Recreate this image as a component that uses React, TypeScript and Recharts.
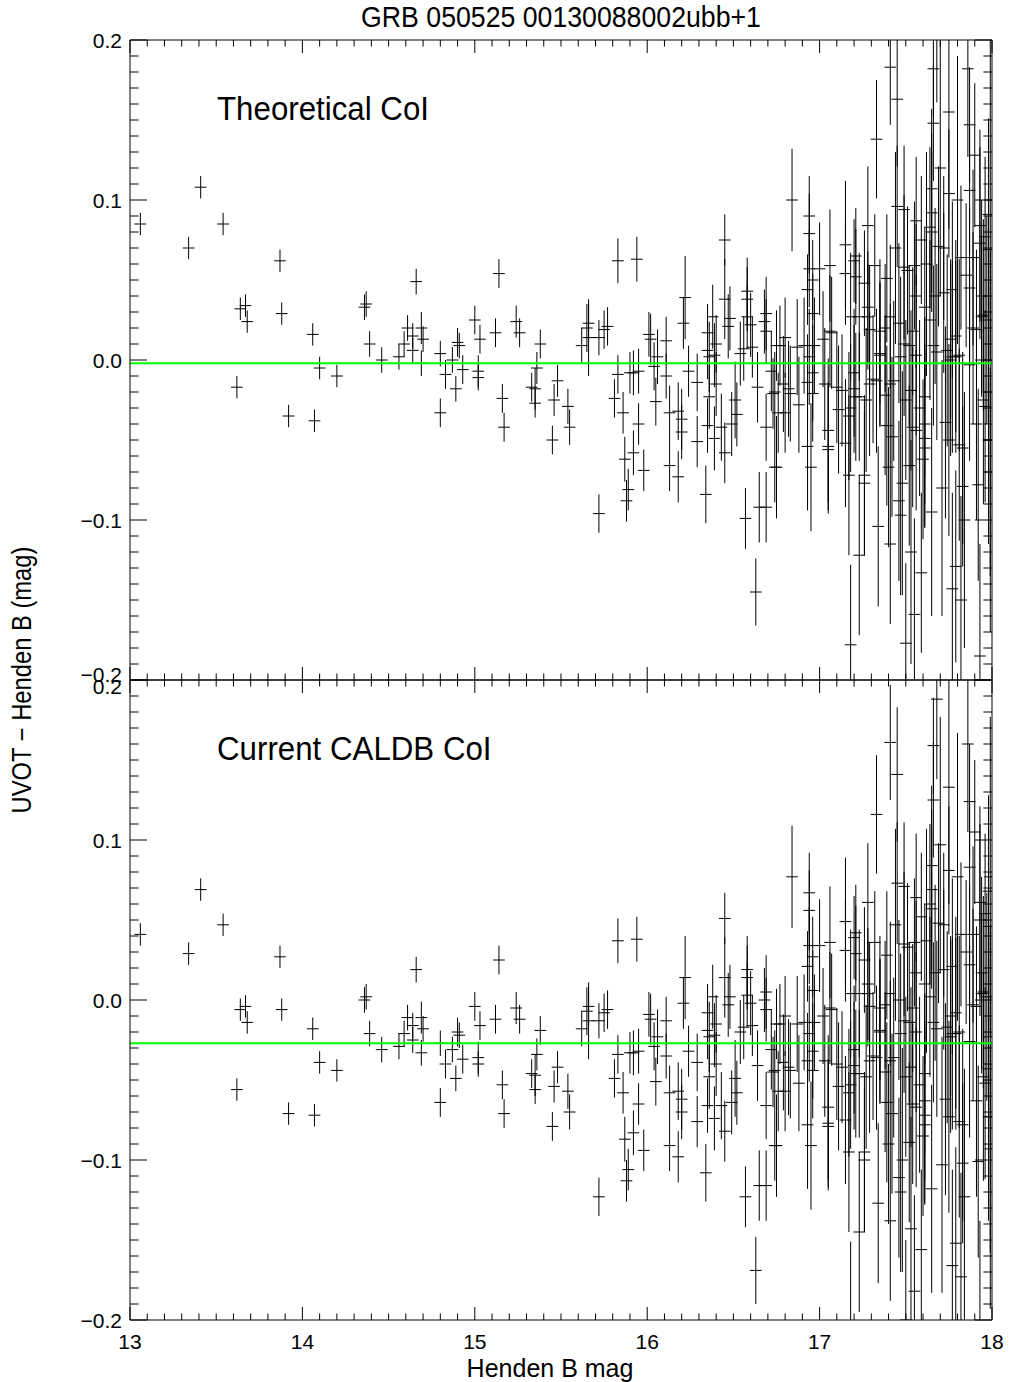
import { ErrorBar, ReferenceLine, Scatter, ScatterChart, XAxis, YAxis } from 'recharts';

// Henden B magnitude of each comparison star (same stars in both panels)
const henB = [
    13.06, 13.41, 13.34, 13.54, 13.87, 13.88, 13.67, 13.64, 13.68, 13.62,
    13.92, 14.07, 14.06, 14.10, 14.20, 14.37, 14.36, 14.39, 14.46, 14.56,
    14.59, 14.66, 14.61, 14.64, 14.69, 14.70, 14.64, 14.69, 14.80, 14.80,
    14.83, 14.87, 14.89, 14.90, 14.91, 14.93, 15.00, 15.03, 15.02, 15.02,
    15.14, 15.12, 15.16, 15.17, 15.24, 15.26, 15.38, 15.36, 15.33, 15.35,
    15.35, 15.46, 15.45, 15.48, 15.54, 15.55, 15.62, 15.65, 15.66, 15.66,
    15.72, 15.75, 15.77, 15.83, 15.94, 15.72, 15.83, 15.81, 15.86, 15.90,
    15.92, 15.95, 15.95, 15.87, 15.92, 15.98, 15.89, 15.88, 16.02, 16.01,
    16.06, 16.04, 16.11, 16.11, 16.05, 16.13, 16.18, 16.20, 16.20, 16.13,
    16.18, 16.22, 16.21, 16.24, 16.29, 16.29, 16.34, 16.35, 16.35, 16.38,
    16.36, 16.36, 16.40, 16.39, 16.40, 16.35, 16.39, 16.45, 16.45, 16.48,
    16.47, 16.43, 16.45, 16.51, 16.52, 16.49, 16.54, 16.56, 16.58, 16.58,
    16.58, 16.60, 16.61, 16.64, 16.57, 16.65, 16.69, 16.69, 16.69, 16.68,
    16.69, 16.73, 16.74, 16.75, 16.63, 16.84, 16.94, 16.94, 16.94, 16.96,
    16.93, 17.00, 16.96, 17.06, 17.15, 17.15, 17.20, 17.21, 17.21, 17.26,
    17.28, 17.33, 17.32, 17.28, 17.28, 17.41, 17.45, 17.45, 17.49, 17.39,
    17.56, 17.59, 17.55, 17.51, 17.66, 17.66, 17.65, 17.65, 17.65, 17.75,
    17.75, 17.72, 17.86, 17.87, 17.90, 17.87, 17.82, 17.85, 17.98, 17.96,
    17.98, 17.94, 16.77, 16.80, 16.87, 16.97, 17.02, 17.07, 17.23, 17.35,
    17.38, 17.46, 17.49, 17.54, 17.56, 17.64, 17.66, 17.76, 17.72, 17.77,
    17.91, 17.87, 17.95, 16.75, 16.93, 16.95, 16.88, 16.76, 16.80, 16.74,
    16.79, 16.82, 16.96, 16.93, 17.05, 17.05, 17.05, 17.03, 17.11, 17.15,
    17.17, 17.17, 17.20, 17.20, 17.26, 17.26, 17.23, 17.18, 17.27, 17.23,
    17.34, 17.41, 17.40, 17.38, 17.39, 17.42, 17.48, 17.47, 17.46, 17.50,
    17.55, 17.59, 17.52, 17.54, 17.56, 17.61, 17.60, 17.61, 17.65, 17.61,
    17.73, 17.75, 17.77, 17.79, 17.82, 17.83, 17.81, 17.83, 17.92, 17.93,
    17.91, 17.96, 17.31, 17.68, 17.49, 17.64, 17.69, 17.77, 17.89, 17.93,
    17.93, 17.35, 17.41, 17.52, 17.61, 17.67, 17.68, 17.74, 17.79, 17.81,
    17.89, 17.94, 17.97, 17.06, 17.18, 17.29, 16.91, 16.72, 16.83, 16.96,
    17.10, 17.13, 17.18, 17.21, 17.29, 17.33, 17.41, 17.43, 17.50, 17.53,
    17.58, 17.61, 17.76, 17.87, 17.95, 17.98, 17.98, 17.99, 16.94, 17.35,
    17.47, 17.56, 17.79, 17.99, 17.99, 17.98, 17.70, 17.80, 17.62, 17.44,
    17.84, 17.71, 17.53,
];

// UVOT - Henden B, theoretical coincidence loss correction
const theoCol = [
    0.085, 0.108, 0.070, 0.085, 0.062, 0.029, 0.034, 0.032, 0.024, -0.017,
    -0.035, -0.038, 0.016, -0.005, -0.010, 0.035, 0.033, 0.010, 0.000, 0.002,
    0.010, 0.049, 0.020, 0.015, 0.020, 0.013, 0.006, -0.002, -0.033, 0.004,
    -0.009, 0.000, -0.018, 0.011, 0.009, -0.006, 0.025, 0.013, -0.007, -0.011,
    0.054, 0.017, -0.024, -0.042, 0.024, 0.017, 0.010, -0.005, -0.017, -0.018,
    -0.027, -0.025, -0.050, -0.013, -0.029, -0.042, 0.009, 0.020, 0.014, 0.023,
    0.014, 0.019, 0.021, 0.062, 0.063, -0.096, -0.009, -0.024, -0.033, -0.008,
    -0.008, -0.007, -0.040, -0.062, -0.058, -0.069, -0.081, -0.088, 0.013, 0.016,
    0.002, -0.004, 0.012, -0.010, -0.026, -0.033, -0.032, -0.037, -0.045, -0.066,
    -0.073, 0.039, 0.023, -0.007, -0.014, -0.051, -0.084, 0.017, 0.006, 0.027,
    0.002, -0.023, 0.010, 0.003, -0.015, -0.041, -0.049, 0.075, 0.038, 0.026,
    0.021, -0.042, -0.058, -0.025, -0.034, -0.040, 0.004, 0.007, 0.043, 0.038,
    0.027, 0.022, 0.008, -0.017, -0.099, -0.092, -0.092, 0.029, 0.018, 0.024,
    -0.042, -0.021, -0.067, 0.009, -0.145, 0.100, 0.090, 0.079, 0.057, 0.050,
    0.044, 0.057, 0.029, 0.059, 0.072, 0.054, 0.062, 0.065, 0.052, 0.048,
    0.084, 0.138, 0.059, 0.033, 0.027, 0.183, 0.163, 0.096, 0.094, 0.051,
    0.087, 0.075, 0.059, 0.056, 0.182, 0.148, 0.107, 0.092, 0.080, 0.155,
    0.104, 0.070, 0.182, 0.147, 0.128, 0.106, 0.064, 0.053, 0.091, 0.077,
    0.069, 0.027, 0.009, 0.014, 0.008, 0.009, 0.013, 0.017, 0.027, 0.004,
    0.020, 0.023, 0.010, 0.018, 0.040, 0.025, 0.009, 0.013, 0.042, 0.002,
    0.019, 0.045, 0.028, -0.067, -0.054, -0.067, -0.028, -0.033, -0.033, -0.020,
    -0.015, -0.018, -0.008, -0.014, -0.044, -0.054, -0.056, -0.015, -0.031, -0.052,
    -0.072, -0.035, -0.018, -0.008, -0.072, -0.077, -0.122, -0.178, -0.025, -0.023,
    -0.104, -0.115, -0.067, -0.022, -0.041, -0.048, -0.077, -0.097, -0.088, -0.177,
    -0.159, -0.133, -0.066, -0.042, -0.044, -0.055, -0.062, -0.040, -0.095, -0.023,
    -0.039, -0.050, -0.143, -0.129, -0.150, -0.055, -0.053, -0.079, -0.078, -0.185,
    -0.040, -0.029, -0.012, 0.211, 0.058, 0.083, 0.071, 0.044, 0.064, 0.073,
    0.084, 0.018, 0.027, 0.009, 0.033, 0.040, 0.005, 0.006, 0.015, 0.003,
    0.020, 0.040, 0.025, 0.018, 0.027, 0.019, 0.009, -0.007, -0.021, -0.021,
    -0.017, -0.019, -0.030, -0.023, -0.015, -0.013, -0.015, -0.013, -0.025, -0.019,
    -0.030, -0.049, 0.000, -0.003, -0.025, -0.020, -0.050, -0.070, 0.002, 0.003,
    0.002, 0.003, 0.002, 0.100, -0.050, 0.000, 0.120, 0.100, 0.060, 0.070,
    -0.100, -0.080, -0.120,
];

// UVOT - Henden B, current CALDB coincidence loss correction
const caldbCol = [
    0.041, 0.069, 0.029, 0.047, 0.027, -0.006, -0.004, -0.006, -0.014, -0.056,
    -0.071, -0.072, -0.018, -0.039, -0.044, 0.002, 0.000, -0.021, -0.031, -0.029,
    -0.021, 0.019, -0.011, -0.016, -0.011, -0.018, -0.025, -0.033, -0.064, -0.027,
    -0.040, -0.031, -0.049, -0.020, -0.022, -0.037, -0.004, -0.016, -0.036, -0.040,
    0.025, -0.012, -0.053, -0.071, -0.005, -0.012, -0.019, -0.034, -0.046, -0.047,
    -0.056, -0.054, -0.079, -0.042, -0.057, -0.070, -0.018, -0.007, -0.013, -0.004,
    -0.013, -0.008, -0.006, 0.037, 0.038, -0.123, -0.034, -0.049, -0.058, -0.033,
    -0.033, -0.032, -0.065, -0.087, -0.083, -0.094, -0.106, -0.113, -0.012, -0.009,
    -0.023, -0.029, -0.013, -0.035, -0.051, -0.058, -0.057, -0.062, -0.070, -0.091,
    -0.098, 0.014, -0.002, -0.032, -0.039, -0.076, -0.108, -0.008, -0.019, 0.002,
    -0.023, -0.048, -0.015, -0.022, -0.040, -0.066, -0.074, 0.051, 0.014, 0.002,
    -0.003, -0.066, -0.082, -0.049, -0.058, -0.064, -0.020, -0.017, 0.019, 0.014,
    0.003, -0.002, -0.016, -0.041, -0.123, -0.116, -0.116, 0.005, -0.006, 0.000,
    -0.066, -0.045, -0.091, -0.015, -0.169, 0.077, 0.067, 0.056, 0.034, 0.027,
    0.021, 0.034, 0.006, 0.036, 0.049, 0.031, 0.039, 0.042, 0.029, 0.025,
    0.061, 0.116, 0.036, 0.010, 0.004, 0.161, 0.141, 0.073, 0.071, 0.028,
    0.064, 0.052, 0.036, 0.033, 0.159, 0.125, 0.084, 0.069, 0.057, 0.133,
    0.081, 0.047, 0.160, 0.124, 0.105, 0.083, 0.041, 0.030, 0.068, 0.054,
    0.046, 0.004, -0.015, -0.010, -0.015, -0.014, -0.010, -0.006, 0.004, -0.019,
    -0.003, 0.000, -0.013, -0.005, 0.017, 0.002, -0.014, -0.010, 0.019, -0.021,
    -0.004, 0.022, 0.005, -0.091, -0.078, -0.091, -0.052, -0.057, -0.057, -0.044,
    -0.039, -0.042, -0.032, -0.038, -0.067, -0.077, -0.079, -0.038, -0.054, -0.075,
    -0.095, -0.058, -0.041, -0.031, -0.095, -0.100, -0.145, -0.201, -0.048, -0.046,
    -0.127, -0.138, -0.090, -0.045, -0.064, -0.071, -0.100, -0.120, -0.111, -0.200,
    -0.182, -0.156, -0.089, -0.065, -0.067, -0.078, -0.085, -0.063, -0.118, -0.046,
    -0.062, -0.073, -0.166, -0.152, -0.173, -0.078, -0.076, -0.102, -0.101, -0.208,
    -0.063, -0.052, -0.035, 0.188, 0.035, 0.060, 0.048, 0.021, 0.041, 0.050,
    0.061, -0.005, 0.004, -0.014, 0.010, 0.017, -0.018, -0.017, -0.008, -0.020,
    -0.003, 0.017, 0.002, -0.005, 0.004, -0.004, -0.014, -0.031, -0.044, -0.044,
    -0.040, -0.042, -0.053, -0.046, -0.038, -0.036, -0.038, -0.036, -0.048, -0.042,
    -0.053, -0.072, -0.023, -0.026, -0.048, -0.043, -0.073, -0.093, -0.021, -0.020,
    -0.021, -0.020, -0.021, 0.077, -0.073, -0.023, 0.097, 0.077, 0.037, 0.047,
    -0.123, -0.103, -0.143,
];

// 1-sigma error on the colour difference
const colErr = [
    0.007, 0.007, 0.007, 0.007, 0.007, 0.007, 0.007, 0.007, 0.007, 0.007,
    0.007, 0.007, 0.007, 0.007, 0.007, 0.008, 0.008, 0.008, 0.008, 0.008,
    0.008, 0.008, 0.008, 0.008, 0.010, 0.008, 0.008, 0.008, 0.009, 0.008,
    0.009, 0.008, 0.008, 0.009, 0.008, 0.009, 0.009, 0.009, 0.010, 0.008,
    0.009, 0.009, 0.009, 0.009, 0.010, 0.009, 0.009, 0.010, 0.009, 0.013,
    0.009, 0.010, 0.009, 0.010, 0.011, 0.011, 0.011, 0.015, 0.024, 0.012,
    0.011, 0.012, 0.012, 0.014, 0.014, 0.012, 0.012, 0.012, 0.013, 0.013,
    0.014, 0.014, 0.013, 0.014, 0.014, 0.013, 0.013, 0.013, 0.016, 0.014,
    0.017, 0.015, 0.015, 0.014, 0.015, 0.017, 0.018, 0.019, 0.017, 0.016,
    0.016, 0.026, 0.016, 0.016, 0.018, 0.016, 0.018, 0.018, 0.018, 0.020,
    0.022, 0.020, 0.018, 0.020, 0.020, 0.017, 0.020, 0.016, 0.025, 0.020,
    0.020, 0.021, 0.019, 0.024, 0.020, 0.020, 0.020, 0.020, 0.021, 0.020,
    0.020, 0.020, 0.019, 0.022, 0.019, 0.022, 0.022, 0.023, 0.020, 0.020,
    0.021, 0.022, 0.022, 0.022, 0.021, 0.032, 0.025, 0.025, 0.024, 0.025,
    0.022, 0.029, 0.025, 0.035, 0.040, 0.032, 0.026, 0.030, 0.030, 0.033,
    0.037, 0.037, 0.032, 0.035, 0.033, 0.036, 0.042, 0.038, 0.040, 0.040,
    0.040, 0.040, 0.040, 0.040, 0.030, 0.036, 0.050, 0.050, 0.050, 0.073,
    0.040, 0.045, 0.055, 0.036, 0.045, 0.040, 0.045, 0.045, 0.060, 0.050,
    0.060, 0.050, 0.025, 0.025, 0.030, 0.030, 0.030, 0.035, 0.040, 0.045,
    0.040, 0.050, 0.045, 0.040, 0.045, 0.050, 0.050, 0.050, 0.050, 0.060,
    0.050, 0.050, 0.060, 0.032, 0.040, 0.040, 0.030, 0.025, 0.025, 0.025,
    0.030, 0.030, 0.030, 0.030, 0.045, 0.040, 0.040, 0.035, 0.040, 0.040,
    0.050, 0.040, 0.040, 0.040, 0.050, 0.045, 0.050, 0.050, 0.045, 0.040,
    0.050, 0.050, 0.050, 0.050, 0.050, 0.050, 0.070, 0.050, 0.050, 0.050,
    0.060, 0.050, 0.050, 0.050, 0.050, 0.050, 0.050, 0.050, 0.065, 0.050,
    0.060, 0.060, 0.060, 0.060, 0.065, 0.060, 0.060, 0.050, 0.060, 0.070,
    0.060, 0.060, 0.040, 0.050, 0.045, 0.050, 0.050, 0.055, 0.055, 0.060,
    0.060, 0.045, 0.045, 0.050, 0.050, 0.055, 0.055, 0.060, 0.060, 0.060,
    0.060, 0.060, 0.065, 0.035, 0.040, 0.040, 0.030, 0.025, 0.030, 0.030,
    0.035, 0.035, 0.040, 0.040, 0.045, 0.045, 0.050, 0.050, 0.050, 0.050,
    0.055, 0.055, 0.060, 0.060, 0.065, 0.065, 0.065, 0.065, 0.030, 0.045,
    0.050, 0.050, 0.060, 0.100, 0.120, 0.090, 0.080, 0.090, 0.070, 0.060,
    0.080, 0.080, 0.070,
];

// half width of the magnitude bar
const magErr = 0.034;

// mean offsets (green lines)
const theoMean = -0.002;
const caldbMean = -0.027;

const xMajor = [13, 14, 15, 16, 17, 18];
const yMajor = [-0.2, -0.1, 0, 0.1, 0.2];

const xTicks = Array.from({ length: 51 }, (_, i) => Math.round((13 + i * 0.1) * 10) / 10);
const yTicks = Array.from({ length: 41 }, (_, i) => Math.round((-0.2 + i * 0.01) * 100) / 100);

const FONT = '"Liberation Sans", Arial, Helvetica, sans-serif';

const isMajorY = (v: number) => yMajor.some((m) => Math.abs(m - v) < 1e-6);
const fmtY = (v: number) => (v < -1e-9 ? '\u2212' : '') + Math.abs(v).toFixed(1);

// IDL-ish text: regular sans, optionally squeezed horizontally
function NText({ x, y, size, anchor = 'start', rotate = 0, sx = 1, children }: any) {
    const tf = `translate(${x},${y})${rotate ? ` rotate(${rotate})` : ''} scale(${sx},1)`;
    return (
        <text transform={tf} textAnchor={anchor} fontSize={size} fontFamily={FONT} fill="#000">
            {children}
        </text>
    );
}

function XTick(props: any) {
    const { x, y, payload, side, labels } = props;
    const v = payload.value;
    const major = xMajor.includes(v);
    const len = major ? 13 : 6.5;
    const dir = side === 'bottom' ? -1 : 1;
    return (
        <g>
            <line x1={x} x2={x} y1={y} y2={y + dir * len} stroke="#000" strokeWidth={1} />
            {labels && major && (
                <NText x={x} y={y + 29} size={21} anchor="middle">
                    {v}
                </NText>
            )}
        </g>
    );
}

function YTick(props: any) {
    const { x, y, payload, side, shiftAt, shift } = props;
    const v = payload.value;
    const major = isMajorY(v);
    const len = major ? 17 : 8.6;
    const dir = side === 'left' ? 1 : -1;
    // the -0.2 / 0.2 labels of the two panels share the junction; keep them slightly apart
    const dy = shiftAt !== undefined && Math.abs(v - shiftAt) < 1e-6 ? shift : 0;
    return (
        <g>
            <line x1={x} x2={x + dir * len} y1={y} y2={y} stroke="#000" strokeWidth={1} />
            {side === 'left' && major && (
                <NText x={x - 8} y={y + 7.5 + dy} size={21} anchor="end">
                    {fmtY(v)}
                </NText>
            )}
        </g>
    );
}

type PanelProps = {
    ys: number[];
    mean: number;
    plotTop: number;
    bottomSpace: number;
    xLabels: boolean;
    shiftAt: number;
    shift: number;
};

const PLOT_W = 862;
const PLOT_H = 640;

function Panel({ ys, mean, plotTop, bottomSpace, xLabels, shiftAt, shift }: PanelProps) {
    const rows = henB.map((x, i) => ({ x, y: ys[i], ex: magErr, ey: colErr[i] }));
    const axisStyle = { stroke: '#000', strokeWidth: 1 };
    const frameH = 40 + PLOT_H + bottomSpace;
    return (
        <>
            {/* data layer: exactly the plot box, clipped like the IDL plot */}
            <div style={{ position: 'absolute', left: 130, top: plotTop, width: PLOT_W, height: PLOT_H, overflow: 'hidden' }}>
                <ScatterChart width={PLOT_W} height={PLOT_H} margin={{ top: 0, right: 0, bottom: 0, left: 0 }}>
                    <XAxis type="number" dataKey="x" domain={[13, 18]} allowDataOverflow hide />
                    <YAxis type="number" dataKey="y" domain={[-0.2, 0.2]} allowDataOverflow hide />
                    <Scatter data={rows} shape={() => <g />} isAnimationActive={false}>
                        <ErrorBar dataKey="ey" direction="y" width={0} stroke="#000" strokeWidth={1} isAnimationActive={false} />
                        <ErrorBar dataKey="ex" direction="x" width={0} stroke="#000" strokeWidth={1} isAnimationActive={false} />
                    </Scatter>
                    <ReferenceLine y={mean} stroke="#00ff00" strokeWidth={2} />
                </ScatterChart>
            </div>
            {/* frame layer: box with inward ticks on all four sides */}
            <div style={{ position: 'absolute', left: 0, top: plotTop - 40 }}>
                <ScatterChart width={1010} height={frameH} margin={{ top: 39, right: 17, bottom: bottomSpace - 1, left: 129 }}>
                    <XAxis
                        xAxisId="b"
                        orientation="bottom"
                        type="number"
                        dataKey="x"
                        domain={[13, 18]}
                        allowDataOverflow
                        ticks={xTicks}
                        interval={0}
                        height={1}
                        tickSize={0}
                        tickMargin={0}
                        tickLine={false}
                        axisLine={axisStyle}
                        tick={(p: any) => <XTick {...p} side="bottom" labels={xLabels} />}
                    />
                    <XAxis
                        xAxisId="t"
                        orientation="top"
                        type="number"
                        dataKey="x"
                        domain={[13, 18]}
                        allowDataOverflow
                        ticks={xTicks}
                        interval={0}
                        height={1}
                        tickSize={0}
                        tickMargin={0}
                        tickLine={false}
                        axisLine={axisStyle}
                        tick={(p: any) => <XTick {...p} side="top" labels={false} />}
                    />
                    <YAxis
                        yAxisId="l"
                        orientation="left"
                        type="number"
                        dataKey="y"
                        domain={[-0.2, 0.2]}
                        allowDataOverflow
                        ticks={yTicks}
                        interval={0}
                        width={1}
                        tickSize={0}
                        tickMargin={0}
                        tickLine={false}
                        axisLine={axisStyle}
                        tick={(p: any) => <YTick {...p} side="left" shiftAt={shiftAt} shift={shift} />}
                    />
                    <YAxis
                        yAxisId="r"
                        orientation="right"
                        type="number"
                        dataKey="y"
                        domain={[-0.2, 0.2]}
                        allowDataOverflow
                        ticks={yTicks}
                        interval={0}
                        width={1}
                        tickSize={0}
                        tickMargin={0}
                        tickLine={false}
                        axisLine={axisStyle}
                        tick={(p: any) => <YTick {...p} side="right" />}
                    />
                    <Scatter xAxisId="b" yAxisId="l" data={rows} shape={() => <g />} isAnimationActive={false} />
                </ScatterChart>
            </div>
        </>
    );
}

export default function App() {
    return (
        <div style={{ position: 'absolute', left: 0, top: 0, width: 1010, height: 1382, background: '#fff' }}>
            <svg width={1010} height={1382} style={{ position: 'absolute', left: 0, top: 0 }}>
                <NText x={561} y={27} size={30} anchor="middle" sx={0.89}>
                    GRB 050525 00130088002ubb+1
                </NText>
                <NText x={217} y={120} size={34} sx={0.92}>
                    Theoretical CoI
                </NText>
                <NText x={217} y={760} size={34} sx={0.92}>
                    Current CALDB CoI
                </NText>
                <NText x={550} y={1377} size={25} anchor="middle">
                    Henden B mag
                </NText>
                <NText x={31} y={680} size={27} anchor="middle" rotate={-90} sx={0.88}>
                    UVOT {'\u2212'} Henden B (mag)
                </NText>
            </svg>
            <Panel ys={theoCol} mean={theoMean} plotTop={40} bottomSpace={20} xLabels={false} shiftAt={-0.2} shift={-6} />
            <Panel ys={caldbCol} mean={caldbMean} plotTop={680} bottomSpace={62} xLabels shiftAt={0.2} shift={6} />
        </div>
    );
}
